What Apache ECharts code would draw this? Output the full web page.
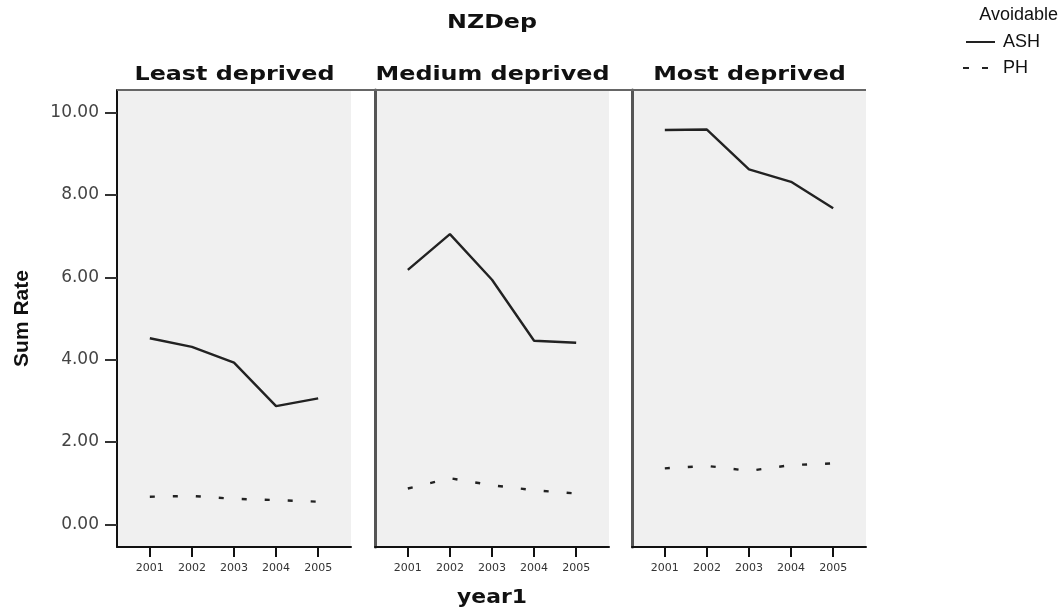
<!DOCTYPE html>
<html>
<head>
<meta charset="utf-8">
<script src="https://cdn.jsdelivr.net/npm/echarts@6/dist/echarts.min.js"></script>
<style>
  html, body { margin: 0; padding: 0; background: #fff; }
  #chart { width: 1061px; height: 612px; }
</style>
</head>
<body>
<div id="chart"></div>
<script>
// years on the x axis of every panel
const years = [2001, 2002, 2003, 2004, 2005]
const panels = ['Least deprived', 'Medium deprived', 'Most deprived']
const yTicks = [0, 2, 4, 6, 8, 10]

// Sum Rate by NZDep group
const ashLeast = [4.52, 4.31, 3.93, 2.87, 3.06]
const ashMedium = [6.18, 7.05, 5.94, 4.46, 4.41]
const ashMost = [9.58, 9.59, 8.62, 8.32, 7.68]
const phLeast = [0.67, 0.69, 0.62, 0.59, 0.55]
const phMedium = [0.87, 1.12, 0.95, 0.83, 0.75]
const phMost = [1.36, 1.42, 1.30, 1.44, 1.48]

const ash = [ashLeast, ashMedium, ashMost]
const ph = [phLeast, phMedium, phMost]

const gridLeft = [117, 375, 632]
const gridWidth = 234
const gridTop = 90
const gridHeight = 457

const pairs = arr => arr.map((v, i) => [years[i], v])

const chart = echarts.init(document.getElementById('chart'))

const grids = [], xAxes = [], yAxes = [], series = []
const graphics = []

// stretched bold titles (the original uses a wide face)
const wideText = (text, cx, cy, size, sx) => ({
  type: 'text',
  x: cx,
  y: cy,
  scaleX: sx,
  style: {
    text: text,
    font: 'bold ' + size + 'px "DejaVu Sans"',
    fill: '#111',
    align: 'center',
    verticalAlign: 'middle',
  },
  z: 20,
})

graphics.push(wideText('NZDep', 492, 23, 19, 1.25))
graphics.push(wideText('year1', 492, 598, 19, 1.15))

panels.forEach((name, i) => {
  grids.push({
    left: gridLeft[i],
    top: gridTop,
    width: gridWidth,
    height: gridHeight,
    show: true,
    backgroundColor: '#f0f0f0',
    borderWidth: 0,
  })
  graphics.push(wideText(name, gridLeft[i] + gridWidth / 2 + 0.5, 75, 20, 1.19))
  xAxes.push({
    gridIndex: i,
    type: 'value',
    min: 2000.22,
    max: 2005.78,
    splitLine: { show: false },
    axisLine: { show: true, onZero: false, lineStyle: { color: '#111', width: 2 } },
    axisTick: { show: true, customValues: years, length: 10, lineStyle: { color: '#111', width: 2 } },
    axisLabel: {
      show: true,
      customValues: years,
      formatter: v => String(v),
      fontFamily: 'DejaVu Sans',
      fontSize: 11,
      color: '#333',
      margin: 16,
    },
  })
  yAxes.push({
    gridIndex: i,
    type: 'value',
    min: -0.55,
    max: 10.55,
    splitLine: { show: false },
    axisLine: {
      show: true,
      onZero: false,
      lineStyle: i === 0 ? { color: '#111', width: 2 } : { color: '#555', width: 3 },
    },
    axisTick: {
      show: i === 0,
      customValues: yTicks,
      length: 12,
      lineStyle: { color: '#333', width: 2 },
    },
    axisLabel: {
      show: i === 0,
      customValues: yTicks,
      formatter: v => v.toFixed(2),
      fontFamily: 'DejaVu Sans',
      fontSize: 17,
      color: '#444',
      margin: 18,
    },
    name: i === 0 ? 'Sum Rate' : '',
    nameLocation: 'middle',
    nameGap: 84,
    nameTextStyle: { fontFamily: 'Liberation Sans', fontWeight: 'bold', fontSize: 21, color: '#111' },
  })
  series.push({
    name: 'ASH',
    type: 'line',
    xAxisIndex: i,
    yAxisIndex: i,
    data: pairs(ash[i]),
    symbol: 'none',
    lineStyle: { color: '#222', width: 2.4 },
    silent: true,
  })
  series.push({
    name: 'PH',
    type: 'line',
    xAxisIndex: i,
    yAxisIndex: i,
    data: pairs(ph[i]),
    symbol: 'none',
    lineStyle: { color: '#222', width: 2.4, type: [5, 18] },
    silent: true,
  })
})

// top frame line across all panels
graphics.push({
  type: 'line',
  shape: { x1: gridLeft[0], y1: gridTop, x2: gridLeft[2] + gridWidth, y2: gridTop },
  style: { stroke: '#666', lineWidth: 2 },
  z: 10,
})

// legend
graphics.push({
  type: 'text',
  x: 1058,
  y: 15,
  style: { text: 'Avoidable', font: '18px "Liberation Sans"', fill: '#111', align: 'right', verticalAlign: 'middle' },
})
graphics.push({
  type: 'line',
  shape: { x1: 966, y1: 42, x2: 995, y2: 42 },
  style: { stroke: '#222', lineWidth: 2 },
})
graphics.push({
  type: 'text',
  x: 1003,
  y: 42,
  style: { text: 'ASH', font: '18px "Liberation Sans"', fill: '#111', verticalAlign: 'middle' },
})
graphics.push({
  type: 'line',
  shape: { x1: 963, y1: 68, x2: 995, y2: 68 },
  style: { stroke: '#222', lineWidth: 2, lineDash: [6, 13] },
})
graphics.push({
  type: 'text',
  x: 1003,
  y: 68,
  style: { text: 'PH', font: '18px "Liberation Sans"', fill: '#111', verticalAlign: 'middle' },
})

chart.setOption({
  animation: false,
  backgroundColor: '#fff',
  grid: grids,
  xAxis: xAxes,
  yAxis: yAxes,
  series: series,
  graphic: graphics,
})
</script>
</body>
</html>
